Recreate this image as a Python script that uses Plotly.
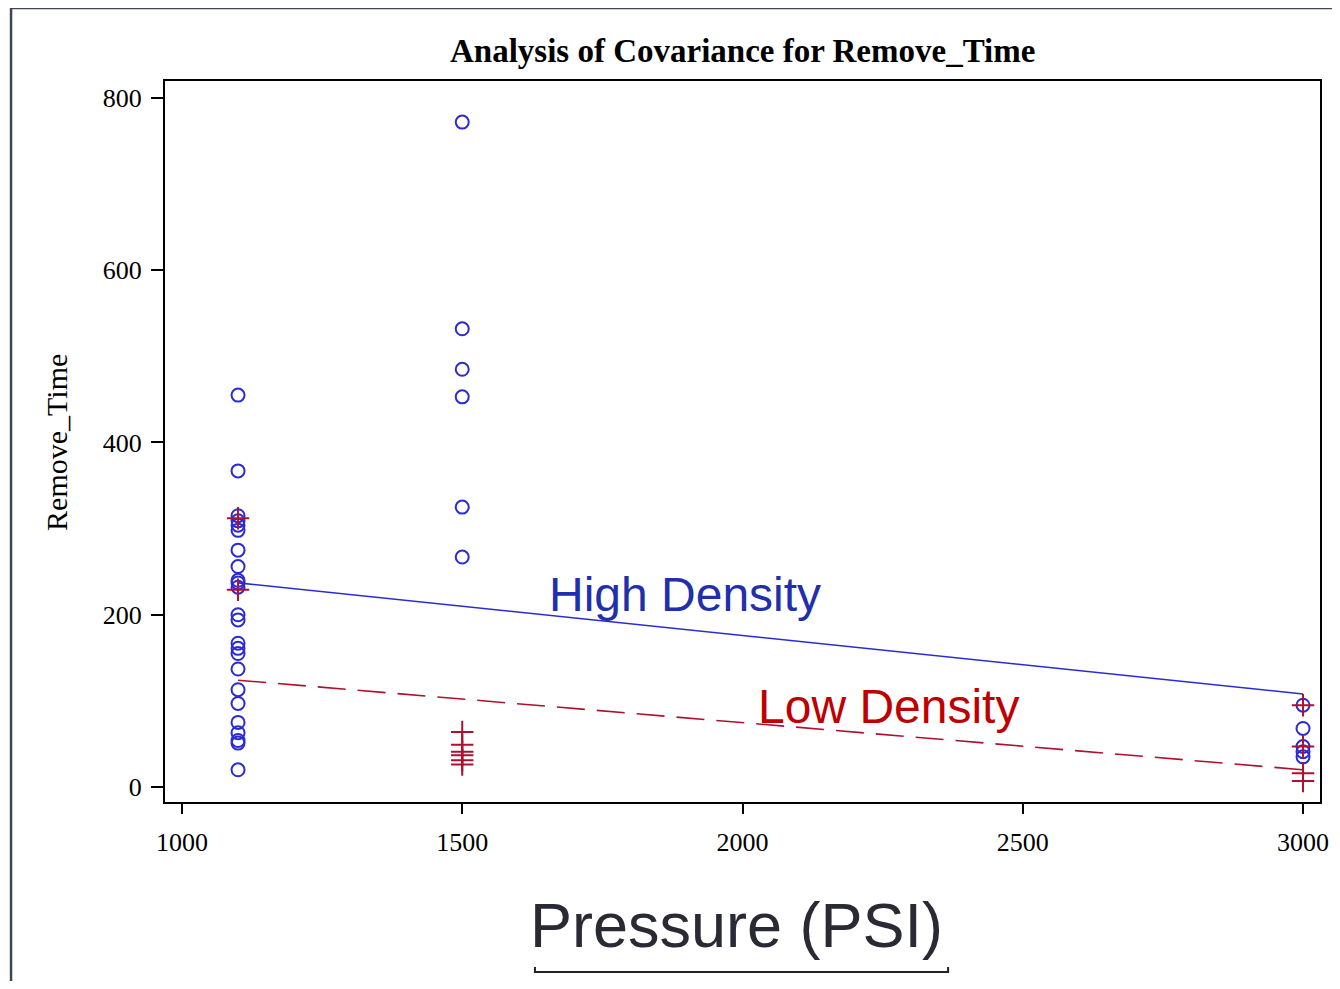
import plotly.graph_objects as go

# ---- data ----
hd_1100 = [455, 367, 315, 309, 304, 298, 275, 256, 240, 237, 232, 200, 194,
           167, 161, 155, 137, 113, 97, 75, 63, 54, 51, 20]
ld_1100 = [312, 229]
hd_1500 = [772, 532, 485, 453, 325, 267]
ld_1500 = [64, 49, 41, 37, 31, 26]
hd_3000 = [95, 68, 47, 41, 35]
ld_3000 = [95, 47, 16, 7]

fit_x = [1100, 3000]
hd_fit = [237, 108]
ld_fit = [124, 20]

x_ticks = [1000, 1500, 2000, 2500, 3000]
y_ticks = [0, 200, 400, 600, 800]

hd_x = [1100] * len(hd_1100) + [1500] * len(hd_1500) + [3000] * len(hd_3000)
hd_y = hd_1100 + hd_1500 + hd_3000
ld_x = [1100] * len(ld_1100) + [1500] * len(ld_1500) + [3000] * len(ld_3000)
ld_y = ld_1100 + ld_1500 + ld_3000

BLUE = "#2b2bd6"
RED = "#b0102e"

fig = go.Figure()
fig.add_trace(go.Scatter(x=fit_x, y=hd_fit, mode="lines",
                         line=dict(color=BLUE, width=1.6), showlegend=False))
fig.add_trace(go.Scatter(x=fit_x, y=ld_fit, mode="lines",
                         line=dict(color=RED, width=1.6, dash="28px,12px"),
                         showlegend=False))
fig.add_trace(go.Scatter(x=hd_x, y=hd_y, mode="markers",
                         marker=dict(symbol="circle-open", size=13,
                                     color=BLUE, line=dict(width=2, color=BLUE)),
                         showlegend=False))
fig.add_trace(go.Scatter(x=ld_x, y=ld_y, mode="markers",
                         marker=dict(symbol="cross-thin-open", size=16,
                                     color=RED, line=dict(width=2, color=RED)),
                         showlegend=False))

serif = "Liberation Serif, Times New Roman, serif"
sans = "Liberation Sans, Arial, sans-serif"

fig.update_layout(
    width=1324, height=973,
    margin=dict(l=157, r=12, t=73, b=179),
    plot_bgcolor="white", paper_bgcolor="white",
    xaxis=dict(range=[969.7, 3030.3], tickvals=x_ticks, automargin=False,
               ticks="outside", ticklen=10, tickwidth=2, tickcolor="black",
               ticklabelstandoff=6,
               showline=True, linecolor="black", linewidth=2, mirror=True,
               showgrid=False, zeroline=False,
               tickfont=dict(family=serif, size=26, color="black")),
    yaxis=dict(range=[-17.4, 819.7], tickvals=y_ticks, automargin=False,
               ticks="outside", ticklen=12, tickwidth=2, tickcolor="black",
               ticklabelstandoff=4,
               showline=True, linecolor="black", linewidth=2, mirror=True,
               showgrid=False, zeroline=False,
               tickfont=dict(family=serif, size=26, color="black")),
    annotations=[
        dict(text="<b>Analysis of Covariance for Remove_Time</b>",
             xref="paper", yref="paper", x=0.5004, y=1.0416,
             xanchor="center", yanchor="middle", showarrow=False,
             font=dict(family=serif, size=33, color="black")),
        dict(text="Remove_Time", xref="paper", yref="paper",
             x=-0.0935, y=0.498, textangle=-90, xanchor="center",
             yanchor="middle", showarrow=False,
             font=dict(family=serif, size=30, color="black")),
        dict(text="High Density", x=1897, y=223, xref="x", yref="y",
             showarrow=False, xanchor="center", yanchor="middle",
             font=dict(family=sans, size=48, color="#1f2fae")),
        dict(text="Low Density", x=2260, y=93, xref="x", yref="y",
             showarrow=False, xanchor="center", yanchor="middle",
             font=dict(family=sans, size=48, color="#c00000")),
        dict(text="Pressure (PSI)", xref="paper", yref="paper",
             x=0.495, y=-0.1706, xanchor="center", yanchor="middle",
             showarrow=False,
             font=dict(family=sans, size=63, color="#2a2a35")),
    ],
    shapes=[
        dict(type="path", xref="paper", yref="paper",
             path="M 0.3203,-0.2288 L 0.3203,-0.2358 L 0.678,-0.2358 L 0.678,-0.2288",
             line=dict(color="#222222", width=2)),
        dict(type="line", xref="paper", yref="paper",
             x0=-0.1333, y0=1.1012, x1=-0.1333, y1=-0.35,
             line=dict(color="#3c4654", width=2.5)),
        dict(type="line", xref="paper", yref="paper",
             x0=-0.1333, y0=1.1012, x1=1.05, y1=1.1012,
             line=dict(color="#3c4654", width=2.5)),
    ],
)

fig.write_html("out.html")
